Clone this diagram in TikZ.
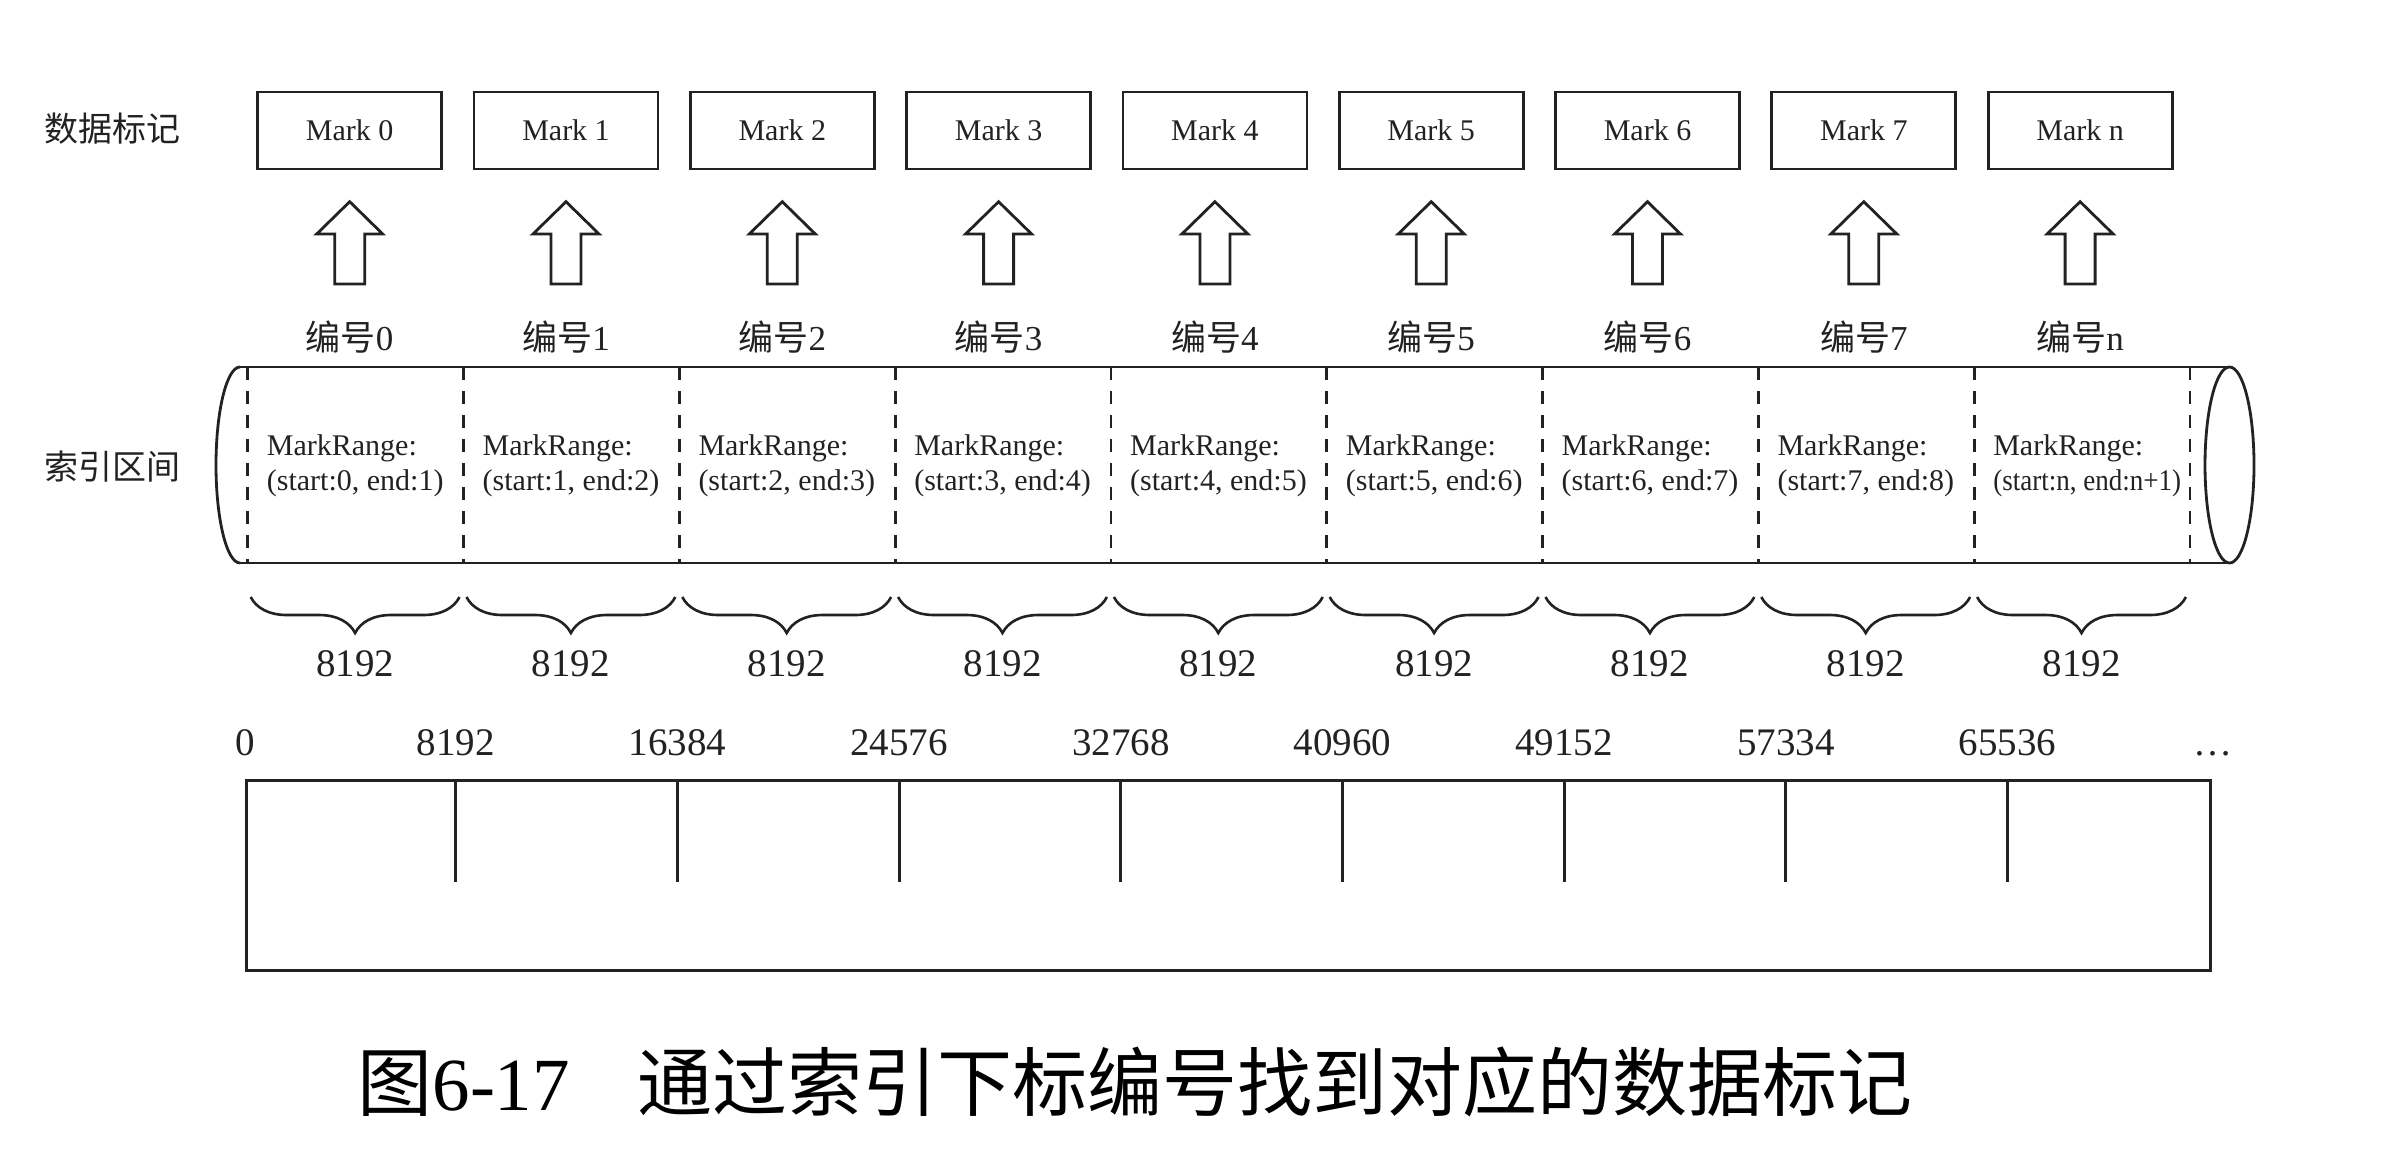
\documentclass[tikz,border=0pt]{standalone}
\usepackage{graphicx}
\usepackage{fontspec}
\setmainfont{Liberation Serif}
\newfontfamily\cjk{Noto Sans CJK SC}
\usetikzlibrary{decorations.pathreplacing}
\definecolor{ink}{HTML}{222222}
\begin{document}
\begin{tikzpicture}[x=1pt,y=-1pt,
  markbox/.style={draw=ink, line width=2.8pt, minimum width=184pt, minimum height=77pt,
    inner sep=0pt, text=ink, font=\fontsize{30}{36}\selectfont},
  sidelabel/.style={text=ink, inner sep=0pt, font=\cjk\fontsize{34}{40}\selectfont},
  numlabel/.style={text=ink, inner sep=0pt, font=\fontsize{35}{40}\selectfont},
  blockarrow/.style={draw=ink, line width=2.8pt, line join=miter},
  cyl/.style={draw=ink, line width=2.8pt},
  dashline/.style={draw=ink, line width=2.8pt, dash pattern=on 13pt off 11pt},
  rangetext/.style={text=ink, inner sep=0pt, align=left, anchor=west,
    font=\fontsize{30}{35}\selectfont},
  bracestyle/.style={draw=ink, line width=2.6pt, decorate,
    decoration={brace, mirror, amplitude=36pt}},
  sizelabel/.style={text=ink, inner sep=0pt, font=\fontsize{39}{44}\selectfont},
  boxline/.style={draw=ink, line width=3pt},
  axislabel/.style={text=ink, inner sep=0pt, anchor=base, font=\fontsize{39}{44}\selectfont}
]
\useasboundingbox (0,0) rectangle (2384,1170);
\fill[white] (0,0) rectangle (2384,1170);

% row titles
\node[sidelabel] (titlemark) at (112,129) {数据标记};
\node[sidelabel] (titlerange) at (112,467) {索引区间};

% data marks, block arrows and index numbers
\foreach \i/\t in {0/0,1/1,2/2,3/3,4/4,5/5,6/6,7/7,8/n} {
  \pgfmathsetmacro{\cx}{349.7+216.3*\i}
  \node[markbox] (mark\i) at (\cx,130.5) {Mark \t};
  \node[numlabel] (num\i) at (\cx,337) {{\cjk 编号}\t};
  \coordinate (arrowtip\i) at (\cx,201.7);
  \draw[blockarrow] (\cx-15,284) -- (\cx+15,284) -- (\cx+15,234) -- (\cx+33,234)
    -- (arrowtip\i) -- (\cx-33,234) -- (\cx-15,234) -- cycle;
}

% cylinder of mark ranges
\draw[cyl] (240,367) -- (2229,367);
\draw[cyl] (240,563) -- (2229,563);
\draw[cyl] (240,367) arc[start angle=270, end angle=90, x radius=24, y radius=98];
\draw[cyl] (2229.5,465) ellipse[x radius=24.5, y radius=98];

\foreach \k in {0,...,9} {
  \pgfmathsetmacro{\dx}{247.7+215.8*\k}
  \coordinate (segtop\k) at (\dx,367);
  \coordinate (segbot\k) at (\dx,563);
  \draw[dashline] (segtop\k) -- (segbot\k);
}

\foreach \k/\s/\e in {0/0/1,1/1/2,2/2/3,3/3/4,4/4/5,5/5/6,6/6/7,7/7/8} {
  \pgfmathsetmacro{\dx}{247.7+215.8*\k}
  \node[rangetext] (range\k) at (\dx+19,465.5) {MarkRange:\\(start:\s, end:\e)};
}
\node[rangetext] (range8) at (247.7+215.8*8+19,465.5)
  {MarkRange:\\\scalebox{0.9}[1]{(start:n, end:n+1)}};

% granule braces
\foreach \k in {0,...,8} {
  \pgfmathsetmacro{\ax}{247.7+215.8*\k+3}
  \pgfmathsetmacro{\bx}{247.7+215.8*(\k+1)-4}
  \pgfmathsetmacro{\mx}{(\ax+\bx)/2}
  \draw[bracestyle] (\ax,597) -- (\bx,597);
  \node[sizelabel] (size\k) at (\mx,664) {8192};
}

% row offsets
\draw[boxline] (246.7,780) rectangle (2210,970);
\node[axislabel] (off0) at (245,755) {0};
\foreach \j/\v in {0/8192,1/16384,2/24576,3/32768,4/40960,5/49152,6/57334,7/65536} {
  \pgfmathsetmacro{\tx}{455.7+221.7*\j}
  \coordinate (ticktop\j) at (\tx,780);
  \coordinate (tickbot\j) at (\tx,882);
  \draw[boxline] (ticktop\j) -- (tickbot\j);
  \node[axislabel] (off\v) at (\tx,755) {\v};
}
\node[axislabel] (offmore) at (2213,755) {\dots};

% caption
\node[inner sep=0pt, font=\cjk\fontsize{75}{85}\selectfont] (caption) at (1135,1082)
  {图{\rmfamily 6-17}\hspace{0.9em}通过索引下标编号找到对应的数据标记};
\end{tikzpicture}
\end{document}
